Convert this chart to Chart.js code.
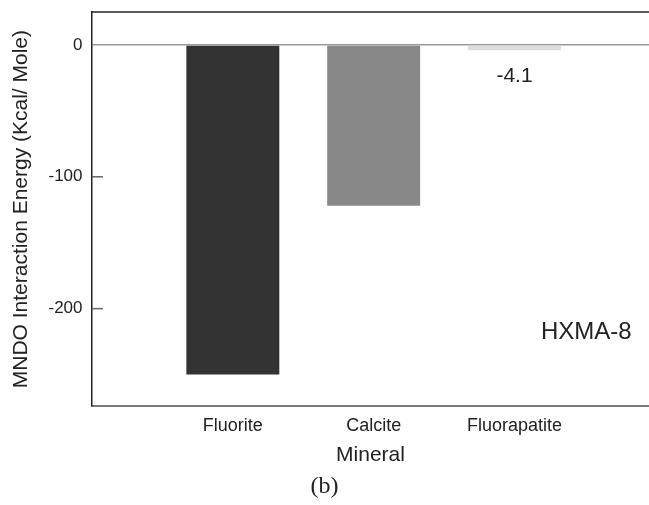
<!DOCTYPE html>
<html>
<head>
<meta charset="utf-8">
<script src="https://cdn.jsdelivr.net/npm/chart.js@4"></script>
<style>
  html, body { margin: 0; padding: 0; background: #fff; }
  #wrap { width: 649px; height: 505px; }
</style>
</head>
<body>
<div id="wrap"><canvas id="myChart" width="649" height="505"></canvas></div>
<script>
// categories and values
var minerals = ['Fluorite', 'Calcite', 'Fluorapatite'];
var energies = [-250, -122, -4.1];
var barColors = ['#333333', '#888888', '#dddddd'];
var yTicks = [0, -100, -200];
var labelIndex = 2;      // bar that gets its value written under it
var panelNote = 'HXMA-8';

Chart.defaults.font.family = "'Liberation Sans', Arial, sans-serif";
Chart.defaults.color = '#222';

// top frame line, inward tick marks, value label and panel note
var extras = {
  id: 'extras',
  afterDraw: function(chart) {
    var ctx = chart.ctx;
    var area = chart.chartArea;
    var xs = chart.scales.x;
    var ys = chart.scales.y;
    ctx.save();
    ctx.strokeStyle = '#222';
    ctx.lineWidth = 1.5;
    ctx.beginPath();
    ctx.moveTo(area.left, area.top);
    ctx.lineTo(area.right, area.top);
    ctx.stroke();

    ctx.strokeStyle = '#666';
    for (var i = 0; i < yTicks.length; i++) {
      if (yTicks[i] === 0) continue;
      var ty = ys.getPixelForValue(yTicks[i]);
      ctx.beginPath();
      ctx.moveTo(area.left, ty);
      ctx.lineTo(area.left + 11, ty);
      ctx.stroke();
    }

    var bar = chart.getDatasetMeta(0).data[labelIndex];
    ctx.fillStyle = '#222';
    ctx.textAlign = 'center';
    ctx.textBaseline = 'middle';
    ctx.font = "21px 'Liberation Sans', Arial, sans-serif";
    ctx.fillText(String(energies[labelIndex]), bar.x, bar.y + 26);

    ctx.font = "24px 'Liberation Sans', Arial, sans-serif";
    ctx.fillText(panelNote, xs.getPixelForValue(3.51), ys.getPixelForValue(-218));
    ctx.restore();
  }
};

var ctx = document.getElementById('myChart');
var myChart = new Chart(ctx, {
  type: 'bar',
  data: {
    datasets: [{
      data: energies.map(function(v, i) { return { x: i + 1, y: v }; }),
      backgroundColor: barColors,
      borderWidth: 0,
      barPercentage: 0.66,
      categoryPercentage: 1
    }]
  },
  options: {
    responsive: false,
    animation: false,
    layout: { padding: { top: 12, left: 0, right: 0, bottom: 0 } },
    plugins: {
      legend: { display: false },
      tooltip: { enabled: false },
      title: {
        display: true,
        position: 'bottom',
        text: '(b)',
        color: '#222',
        font: { family: "'Liberation Serif', 'Times New Roman', serif", size: 24, weight: 'normal' },
        padding: { top: 2, bottom: 4 }
      }
    },
    scales: {
      x: {
        type: 'linear',
        offset: false,
        min: 0,
        max: 3.955,
        afterBuildTicks: function(scale) {
          scale.ticks = minerals.map(function(m, i) { return { value: i + 1 }; });
        },
        afterFit: function(scale) {
          scale.height = 64;
          scale.paddingLeft = 0;
          scale.paddingRight = 0;
        },
        ticks: {
          padding: 9,
          font: { size: 18 },
          color: '#222',
          callback: function(v) { return minerals[v - 1] || ''; }
        },
        grid: { display: false, drawTicks: false, offset: false },
        border: { display: true, color: '#777', width: 2 },
        title: {
          display: true,
          text: 'Mineral',
          font: { size: 21 },
          color: '#222',
          padding: { top: 0, bottom: 2 }
        }
      },
      y: {
        min: -274,
        max: 25,
        afterBuildTicks: function(scale) {
          scale.ticks = yTicks.map(function(v) { return { value: v }; });
        },
        afterFit: function(scale) {
          scale.width = 92;
          scale.paddingTop = 0;
          scale.paddingBottom = 0;
        },
        ticks: { padding: 9.5, font: { size: 17 }, color: '#222' },
        grid: {
          drawTicks: false,
          lineWidth: 1.5,
          color: function(c) { return c.tick && c.tick.value === 0 ? '#999' : 'rgba(0,0,0,0)'; }
        },
        border: { display: true, color: '#222', width: 1.5 },
        title: {
          display: true,
          text: 'MNDO Interaction Energy (Kcal/ Mole)',
          font: { size: 21 },
          color: '#222',
          padding: { top: 8.5, bottom: 0 }
        }
      }
    }
  },
  plugins: [extras]
});
</script>
</body>
</html>
